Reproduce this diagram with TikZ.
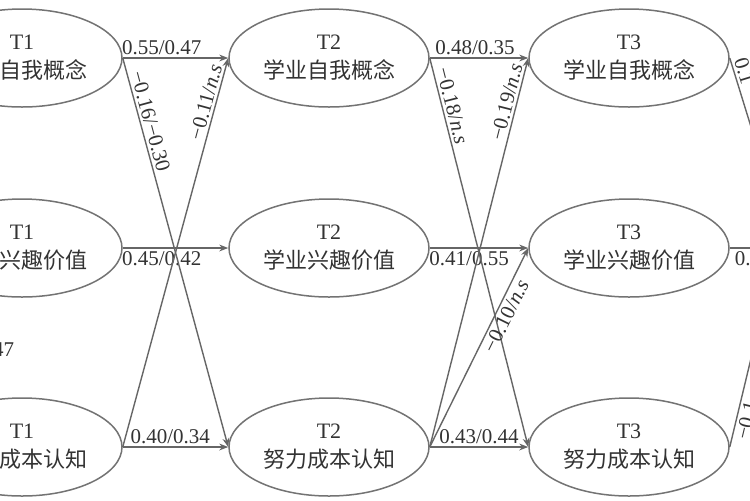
\documentclass[tikz,border=0pt]{standalone}
\usepackage{fontspec}
\setmainfont{Liberation Serif}
\newfontfamily\cjk{Noto Sans CJK SC}
\usetikzlibrary{shapes.geometric,arrows.meta}
\begin{document}
\begin{tikzpicture}[x=0.5pt,y=-0.5pt,
  latent/.style={ellipse,draw=black!55,line width=0.75pt,minimum width=100pt,minimum height=49pt,inner sep=0pt,align=center,text=black!80,font=\fontsize{11}{14.5}\selectfont},
  conn/.style={draw=black!60,line width=0.7pt,-{Stealth[length=4.5pt,width=3.4pt]}},
  coef/.style={font=\fontsize{10.5}{12}\selectfont,text=black!80,inner sep=1.2pt},
]
\useasboundingbox (0,0) rectangle (750,500);
\fill[white] (0,0) rectangle (750,500);
\clip (0,0) rectangle (750,500);

% latent variables
\node[latent] (a1) at (22,58)  {T1\\{\cjk 学业自我概念}};
\node[latent] (b1) at (22,248) {T1\\{\cjk 学业兴趣价值}};
\node[latent] (c1) at (22,447) {T1\\{\cjk 努力成本认知}};
\node[latent] (a2) at (329,58)  {T2\\{\cjk 学业自我概念}};
\node[latent] (b2) at (329,248) {T2\\{\cjk 学业兴趣价值}};
\node[latent] (c2) at (329,447) {T2\\{\cjk 努力成本认知}};
\node[latent] (a3) at (629,58)  {T3\\{\cjk 学业自我概念}};
\node[latent] (b3) at (629,248) {T3\\{\cjk 学业兴趣价值}};
\node[latent] (c3) at (629,447) {T3\\{\cjk 努力成本认知}};

% free ends beyond the right edge
\coordinate (r1) at (790,253);
\coordinate (r2) at (790,248);
\coordinate (r3) at (790,196);

% T1 -> T2
\draw[conn] (a1.east) -- node[coef,pos=0.37,above] {0.55/0.47} (a2.west);
\draw[conn] (b1.east) -- node[coef,pos=0.37,below] {0.45/0.42} (b2.west);
\draw[conn] (c1.east) -- node[coef,pos=0.45,above] {0.40/0.34} (c2.west);
\draw[conn] (a1.east) -- node[coef,pos=0.17,sloped,above] {−0.16/−0.30} (c2.west);
\draw[conn] (c1.east) -- node[coef,pos=0.88,sloped,above] {−0.11/\textit{n.s}} (a2.west);

% T2 -> T3
\draw[conn] (a2.east) -- node[coef,pos=0.46,above] {0.48/0.35} (a3.west);
\draw[conn] (b2.east) -- node[coef,pos=0.40,below] {0.41/0.55} (b3.west);
\draw[conn] (c2.east) -- node[coef,pos=0.50,above] {0.43/0.44} (c3.west);
\draw[conn] (a2.east) -- node[coef,pos=0.13,sloped,above] {−0.18/\textit{n.s}} (c3.west);
\draw[conn] (c2.east) -- node[coef,pos=0.88,sloped,above] {−0.19/\textit{n.s}} (a3.west);
\draw[conn] (c2.east) -- node[coef,pos=0.68,sloped,below] {−0.10/\textit{n.s}} (b3.west);

% T3 -> beyond
\draw[conn] (a3.east) -- node[coef,pos=0.08,sloped,above] {0.1} (r1);
\draw[conn] (b3.east) -- node[coef,pos=0,anchor=north west,xshift=1pt] {0.2} (r2);
\draw[conn] (c3.east) -- node[coef,pos=0.115,sloped,below] {−0.1} (r3);

% cut-off label at the left edge
\node[coef,anchor=east] (n47) at (17,350) {0.47};
\end{tikzpicture}
\end{document}
